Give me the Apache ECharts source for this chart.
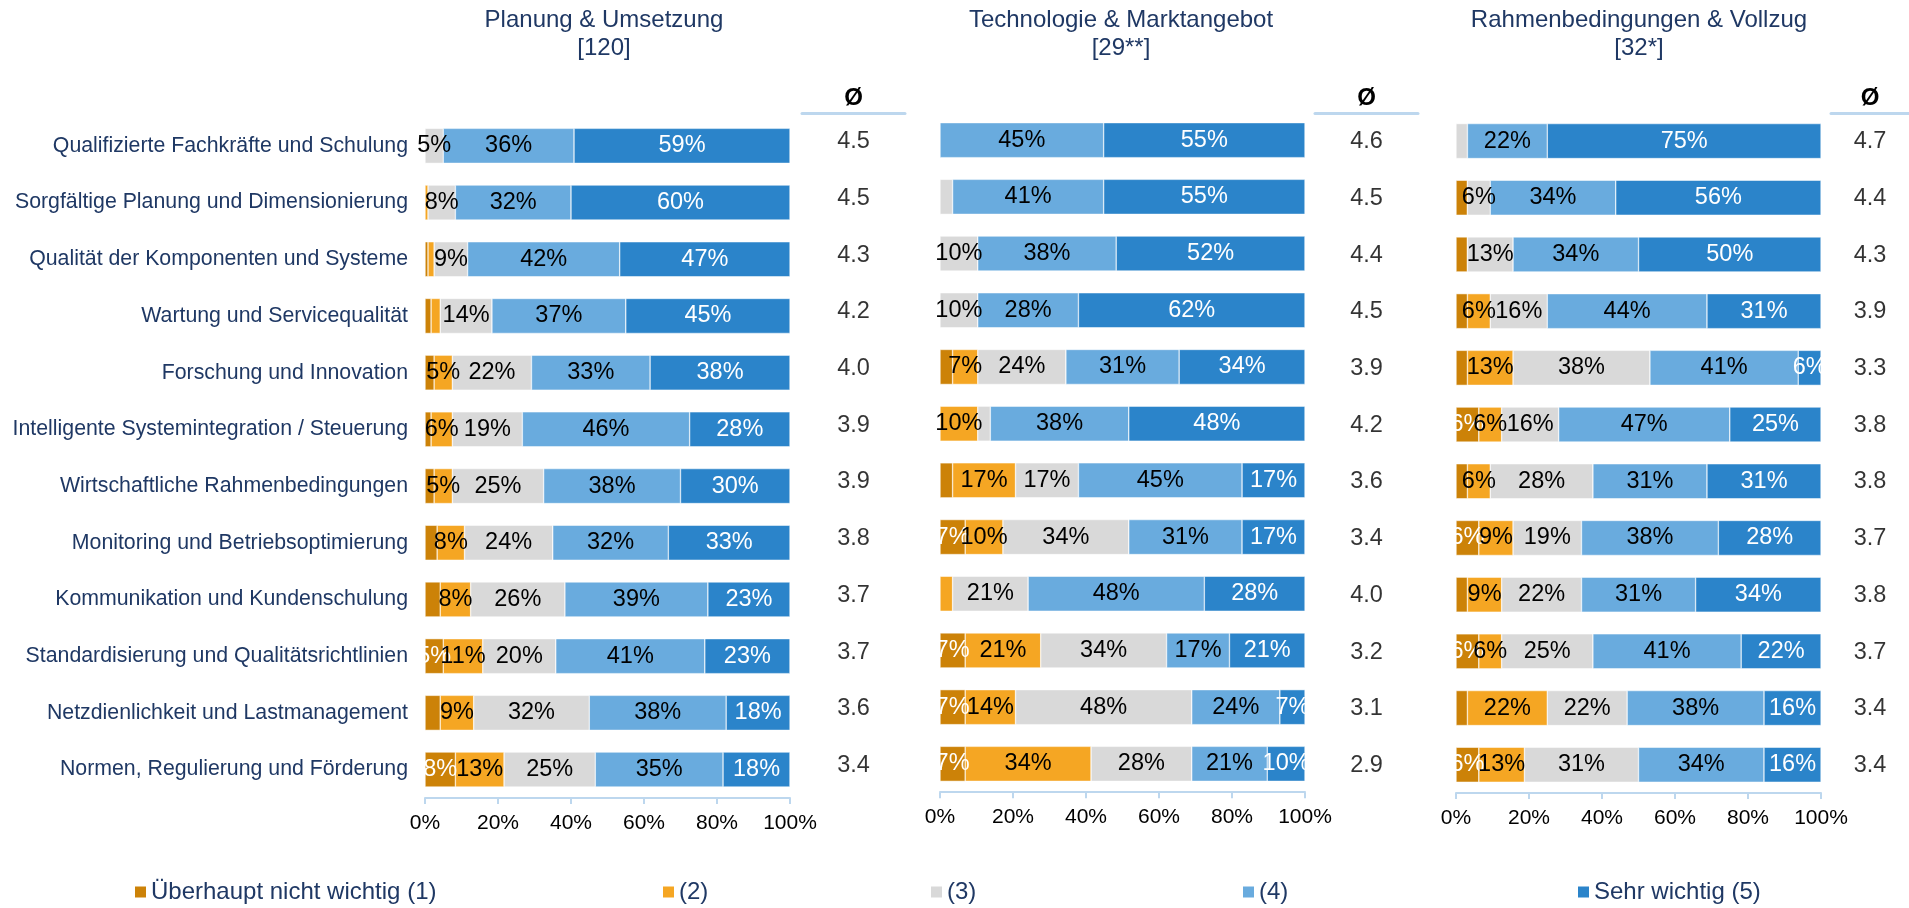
<!DOCTYPE html>
<html>
<head>
<meta charset="utf-8">
<title>Erfolgsfaktoren</title>
<script src="https://cdn.jsdelivr.net/npm/echarts@6/dist/echarts.min.js"></script>
<style>
html,body{margin:0;padding:0;background:#fff;}
#main{width:1909px;height:908px;}
</style>
</head>
<body>
<div id="main"></div>
<script>
// Kategorien (von oben nach unten)
var categories = ['Qualifizierte Fachkräfte und Schulung','Sorgfältige Planung und Dimensionierung','Qualität der Komponenten und Systeme','Wartung und Servicequalität','Forschung und Innovation','Intelligente Systemintegration / Steuerung','Wirtschaftliche Rahmenbedingungen','Monitoring und Betriebsoptimierung','Kommunikation und Kundenschulung','Standardisierung und Qualitätsrichtlinien','Netzdienlichkeit und Lastmanagement','Normen, Regulierung und Förderung'];
var levels = ['Überhaupt nicht wichtig (1)','(2)','(3)','(4)','Sehr wichtig (5)'];
var xTicks = [0,20,40,60,80,100];

// Planung & Umsetzung [120]
var plan1 = [0, 0, 0.83, 1.67, 2.5, 1.67, 2.5, 3.33, 4.17, 5, 4.17, 8.33];
var plan2 = [0, 0.83, 1.67, 2.5, 5, 5.83, 5, 7.5, 8.33, 10.83, 9.17, 13.33];
var plan3 = [5, 7.5, 9.17, 14.17, 21.67, 19.17, 25, 24.17, 25.83, 20, 31.67, 25];
var plan4 = [35.83, 31.67, 41.67, 36.67, 32.5, 45.83, 37.5, 31.67, 39.17, 40.83, 37.5, 35];
var plan5 = [59.17, 60, 46.67, 45, 38.33, 27.5, 30, 33.33, 22.5, 23.33, 17.5, 18.33];
var planAvg = [4.5, 4.5, 4.3, 4.2, 4.0, 3.9, 3.9, 3.8, 3.7, 3.7, 3.6, 3.4];

// Technologie & Marktangebot [29**]
var tech1 = [0, 0, 0, 0, 3.45, 0, 3.45, 6.9, 0, 6.9, 6.9, 6.9];
var tech2 = [0, 0, 0, 0, 6.9, 10.34, 17.24, 10.34, 3.45, 20.69, 13.79, 34.48];
var tech3 = [0, 3.45, 10.34, 10.34, 24.14, 3.45, 17.24, 34.48, 20.69, 34.48, 48.28, 27.59];
var tech4 = [44.83, 41.38, 37.93, 27.59, 31.03, 37.93, 44.83, 31.03, 48.28, 17.24, 24.14, 20.69];
var tech5 = [55.17, 55.17, 51.72, 62.07, 34.48, 48.28, 17.24, 17.24, 27.59, 20.69, 6.9, 10.34];
var techAvg = [4.6, 4.5, 4.4, 4.5, 3.9, 4.2, 3.6, 3.4, 4.0, 3.2, 3.1, 2.9];

// Rahmenbedingungen & Vollzug [32*]
var rahmen1 = [0, 3.13, 3.13, 3.13, 3.13, 6.25, 3.13, 6.25, 3.13, 6.25, 3.13, 6.25];
var rahmen2 = [0, 0, 0, 6.25, 12.5, 6.25, 6.25, 9.38, 9.38, 6.25, 21.88, 12.5];
var rahmen3 = [3.13, 6.25, 12.5, 15.63, 37.5, 15.63, 28.13, 18.75, 21.88, 25, 21.88, 31.25];
var rahmen4 = [21.88, 34.38, 34.38, 43.75, 40.63, 46.88, 31.25, 37.5, 31.25, 40.63, 37.5, 34.38];
var rahmen5 = [75, 56.25, 50, 31.25, 6.25, 25, 31.25, 28.13, 34.38, 21.88, 15.63, 15.63];
var rahmenAvg = [4.7, 4.4, 4.3, 3.9, 3.3, 3.8, 3.8, 3.7, 3.8, 3.7, 3.4, 3.4];

var FONT = 'Liberation Sans, Arial, sans-serif';
var NAVY = '#1F3864';
var LINE = '#BDD7EE';
var colors = ['#CC8208', '#F5A623', '#D9D9D9', '#69ABDE', '#2B84CA'];
var labelColors = ['#fff', '#000', '#000', '#000', '#fff'];

var panels = [
	{title: 'Planung & Umsetzung\n[120]', data: [plan1, plan2, plan3, plan4, plan5], avg: planAvg, left: 425, top: 117.5, titleX: 604, avgLeft: 802},
	{title: 'Technologie & Marktangebot\n[29**]', data: [tech1, tech2, tech3, tech4, tech5], avg: techAvg, left: 940, top: 111.8, titleX: 1121, avgLeft: 1315},
	{title: 'Rahmenbedingungen & Vollzug\n[32*]', data: [rahmen1, rahmen2, rahmen3, rahmen4, rahmen5], avg: rahmenAvg, left: 1456, top: 112.7, titleX: 1639, avgLeft: 1831}
];
var BAR_W = 365, GRID_H = 680.4;

var titles = [], grids = [], xAxes = [], yAxes = [], series = [];

// Balken-Panels
panels.forEach(function(p, i){
	titles.push({
		text: p.title, left: p.titleX, top: 6, textAlign: 'center', padding: 0,
		textStyle: {fontFamily: FONT, fontSize: 24, fontWeight: 'normal', color: NAVY, lineHeight: 28}
	});
	grids.push({left: p.left, top: p.top, width: BAR_W, height: GRID_H});
	xAxes.push({
		type: 'value', gridIndex: i, min: xTicks[0], max: xTicks[xTicks.length - 1], interval: xTicks[1] - xTicks[0],
		axisLine: {show: true, lineStyle: {color: LINE, width: 2}},
		axisTick: {show: true, length: 6, lineStyle: {color: LINE, width: 2}},
		splitLine: {show: false},
		axisLabel: {formatter: '{value}%', fontFamily: FONT, fontSize: 21, color: '#000', margin: 15}
	});
	yAxes.push({
		type: 'category', gridIndex: i, inverse: true, data: categories,
		axisLine: {show: false}, axisTick: {show: false},
		axisLabel: {show: i === 0, fontFamily: FONT, fontSize: 21.3, color: NAVY, margin: 17}
	});
	p.data.forEach(function(vals, k){
		series.push({
			name: levels[k], type: 'bar', stack: 'p' + i, xAxisIndex: i, yAxisIndex: i,
			barWidth: 35, data: vals,
			itemStyle: {color: colors[k], borderColor: '#fff', borderWidth: 0.5},
			label: {
				show: true, position: 'inside', fontFamily: FONT, fontSize: 23.5, color: labelColors[k],
				formatter: function(prm){ return prm.value >= 4.5 ? Math.round(prm.value) + '%' : ''; }
			},
			emphasis: {disabled: true}
		});
	});
});

// Ø-Spalten
panels.forEach(function(p, i){
	var gi = grids.length;
	grids.push({left: p.avgLeft, top: 113.4, width: 103, height: GRID_H});
	xAxes.push({
		type: 'value', gridIndex: gi, position: 'top', min: -1, max: 1,
		axisLine: {show: true, onZero: false, lineStyle: {color: LINE, width: 3}},
		axisTick: {show: false}, axisLabel: {show: false}, splitLine: {show: false},
		name: 'Ø', nameLocation: 'middle', nameGap: 3,
		nameTextStyle: {fontFamily: FONT, fontSize: 24, fontWeight: 'bold', color: '#000'}
	});
	yAxes.push({type: 'category', gridIndex: gi, inverse: true, data: categories, show: false});
	series.push({
		type: 'scatter', xAxisIndex: gi, yAxisIndex: gi, symbolSize: 1,
		itemStyle: {color: 'transparent'},
		data: p.avg.map(function(v, r){ return [0, r, v]; }),
		label: {
			show: true, position: 'inside', fontFamily: FONT, fontSize: 23.5, color: '#000',
			formatter: function(prm){ return prm.value[2].toFixed(1); }
		},
		emphasis: {disabled: true}, silent: true
	});
});

// Legende
var legendLeft = [133, 661, 929, 1241, 1576];
var legends = levels.map(function(name, k){
	return {
		data: [name], left: legendLeft[k], top: 880, padding: 0, icon: 'rect',
		itemWidth: 13, itemHeight: 13, itemGap: 0, selectedMode: false,
		textStyle: {fontFamily: FONT, fontSize: 24, color: NAVY, padding: [0, 0, 0, -1]}
	};
});

var myChart = echarts.init(document.getElementById('main'));
myChart.setOption({
	animation: false,
	color: colors,
	title: titles,
	legend: legends,
	grid: grids,
	xAxis: xAxes,
	yAxis: yAxes,
	series: series
});
</script>
</body>
</html>
